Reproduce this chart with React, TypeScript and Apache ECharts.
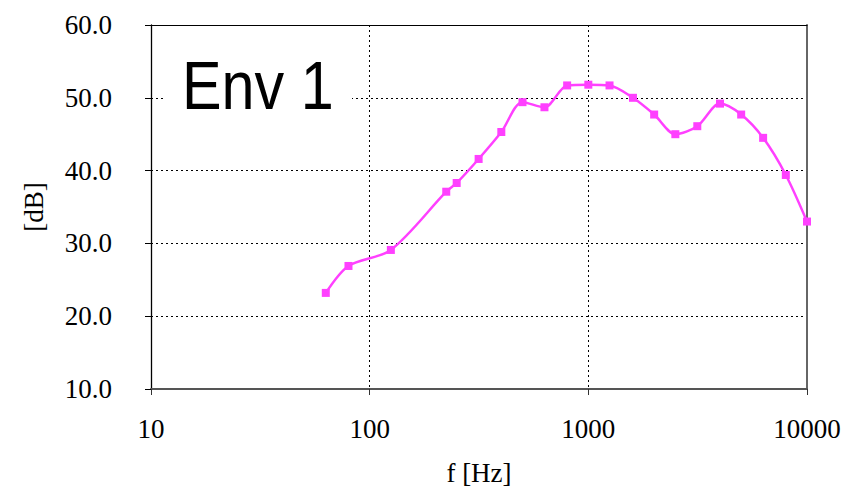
import React, { useEffect, useRef } from "react";
import * as echarts from "echarts";

const frequencies = [63, 80, 125, 224, 250, 315, 400, 500, 630, 800, 1000, 1250, 1600, 2000, 2500, 3150, 4000, 5000, 6300, 8000, 10000];
const levels = [23.2, 26.9, 29.1, 37.1, 38.3, 41.6, 45.3, 49.4, 48.7, 51.7, 51.8, 51.7, 50.0, 47.7, 45.0, 46.1, 49.2, 47.7, 44.5, 39.4, 33.0];
const chartLabel = "Env 1";
const xName = "f [Hz]";
const yName = "[dB]";

const serif = "'Liberation Serif', 'Times New Roman', serif";

export default function App() {
  const ref = useRef<HTMLDivElement>(null);
  useEffect(() => {
    if (!ref.current) return;
    const chart = echarts.init(ref.current, null, { renderer: "svg" });
    const dotted = { type: [2, 3] as number[], color: "#000", width: 1 };
    chart.setOption({
      animation: false,
      backgroundColor: "#fff",
      grid: { left: 151, right: 37, top: 25, bottom: 101 },
      xAxis: [
        {
          type: "log",
          logBase: 10,
          min: 10,
          max: 10000,
          position: "bottom",
          name: xName,
          nameLocation: "middle",
          nameGap: 70,
          nameTextStyle: { fontFamily: serif, fontSize: 27, color: "#000" },
          axisLine: { show: true, lineStyle: { color: "#555", width: 2 } },
          axisTick: { show: true, length: 6, lineStyle: { color: "#333", width: 1 } },
          minorTick: { show: false },
          axisLabel: {
            fontFamily: serif,
            fontSize: 27,
            color: "#000",
            margin: 26,
            formatter: (v: number) => String(Math.round(v)),
          },
          splitLine: { show: true, showMinLine: false, showMaxLine: false, lineStyle: dotted },
        },
        {
          type: "log",
          logBase: 10,
          min: 10,
          max: 10000,
          position: "top",
          axisLine: { show: true, lineStyle: { color: "#000", width: 1.2 } },
          axisTick: { show: false },
          axisLabel: { show: false },
          splitLine: { show: false },
        },
      ],
      yAxis: [
        {
          type: "value",
          min: 10,
          max: 60,
          interval: 10,
          position: "left",
          name: yName,
          nameLocation: "middle",
          nameGap: 104,
          nameRotate: 90,
          nameTextStyle: { fontFamily: serif, fontSize: 27, color: "#000" },
          axisLine: { show: true, lineStyle: { color: "#000", width: 1.3 } },
          axisTick: { show: true, length: 6, lineStyle: { color: "#000", width: 1 } },
          axisLabel: {
            fontFamily: serif,
            fontSize: 27,
            color: "#000",
            margin: 39,
            formatter: (v: number) => v.toFixed(1),
          },
          splitLine: { show: true, showMinLine: false, showMaxLine: false, lineStyle: dotted },
        },
        {
          type: "value",
          min: 10,
          max: 60,
          interval: 10,
          position: "right",
          axisLine: { show: true, lineStyle: { color: "#666", width: 2 } },
          axisTick: { show: false },
          axisLabel: { show: false },
          splitLine: { show: false },
        },
      ],
      series: [
        {
          type: "line",
          xAxisIndex: 0,
          yAxisIndex: 0,
          data: frequencies.map((f, i) => [f, levels[i]]),
          smooth: 0.3,
          symbol: "rect",
          symbolSize: 8,
          lineStyle: { color: "#ff40ff", width: 2.5 },
          itemStyle: { color: "#ff40ff" },
          z: 3,
        },
      ],
      graphic: [
        {
          type: "rect",
          z: 5,
          shape: { x: 164, y: 36, width: 188, height: 88 },
          style: { fill: "#fff" },
        },
        {
          type: "text",
          z: 6,
          x: 182,
          y: 51,
          scaleX: 0.86,
          style: {
            text: chartLabel,
            fontFamily: "'Liberation Sans', Arial, Helvetica, sans-serif",
            fontSize: 69,
            fill: "#000",
          },
        },
      ],
    });
    return () => chart.dispose();
  }, []);
  return (
    <div
      ref={ref}
      style={{ position: "absolute", left: 0, top: 0, width: 844, height: 491 }}
    />
  );
}
